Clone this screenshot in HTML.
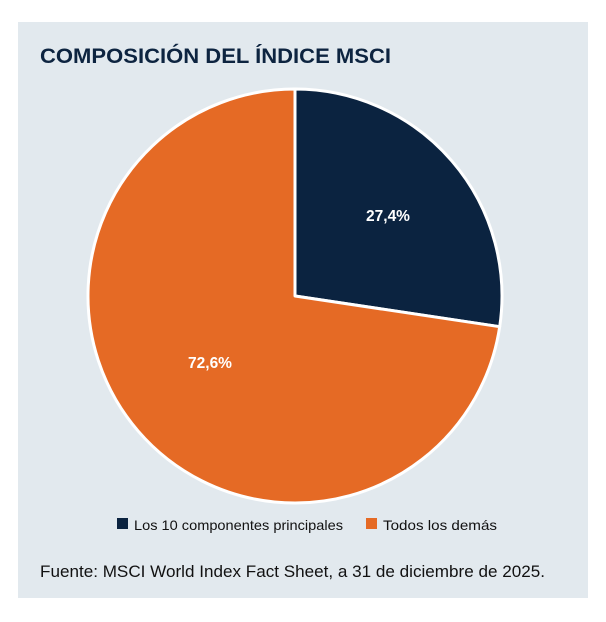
<!DOCTYPE html>
<html><head><meta charset="utf-8"><style>
body{margin:0;width:606px;height:622px;background:#fff;font-family:"Liberation Sans",sans-serif;position:relative;overflow:hidden}
.panel{position:absolute;left:18px;top:22px;width:570px;height:576px;background:#e2e9ee}
</style></head><body>
<div class="panel"></div>
<svg width="606" height="622" style="position:absolute;left:0;top:0">
<text x="40" y="63" font-size="21.5" font-weight="bold" fill="#0d2440" font-family="Liberation Sans, sans-serif" textLength="351" lengthAdjust="spacingAndGlyphs">COMPOSICIÓN DEL ÍNDICE MSCI</text>
<path d="M295,296 L295,89 A207,207 0 0 1 499.7,326.7 Z" fill="#0b2340" stroke="#fff" stroke-width="3" stroke-linejoin="round"/>
<path d="M295,296 L499.7,326.7 A207,207 0 1 1 295,89 Z" fill="#e56a25" stroke="#fff" stroke-width="3" stroke-linejoin="round"/>
<text x="388" y="221" font-size="15.5" font-weight="bold" fill="#fff" text-anchor="middle" font-family="Liberation Sans, sans-serif">27,4%</text>
<text x="210" y="368" font-size="15.5" font-weight="bold" fill="#fff" text-anchor="middle" font-family="Liberation Sans, sans-serif">72,6%</text>
<rect x="117" y="518" width="11" height="11" fill="#0b2340"/>
<text x="134" y="530" font-size="14" fill="#111" font-family="Liberation Sans, sans-serif" textLength="209" lengthAdjust="spacingAndGlyphs">Los 10 componentes principales</text>
<rect x="366" y="518" width="11" height="11" fill="#e56a25"/>
<text x="383" y="530" font-size="14" fill="#111" font-family="Liberation Sans, sans-serif" textLength="114" lengthAdjust="spacingAndGlyphs">Todos los demás</text>
<text x="40" y="577" font-size="16.5" fill="#111" font-family="Liberation Sans, sans-serif" textLength="505" lengthAdjust="spacingAndGlyphs">Fuente: MSCI World Index Fact Sheet, a 31 de diciembre de 2025.</text>
</svg>
</body></html>
